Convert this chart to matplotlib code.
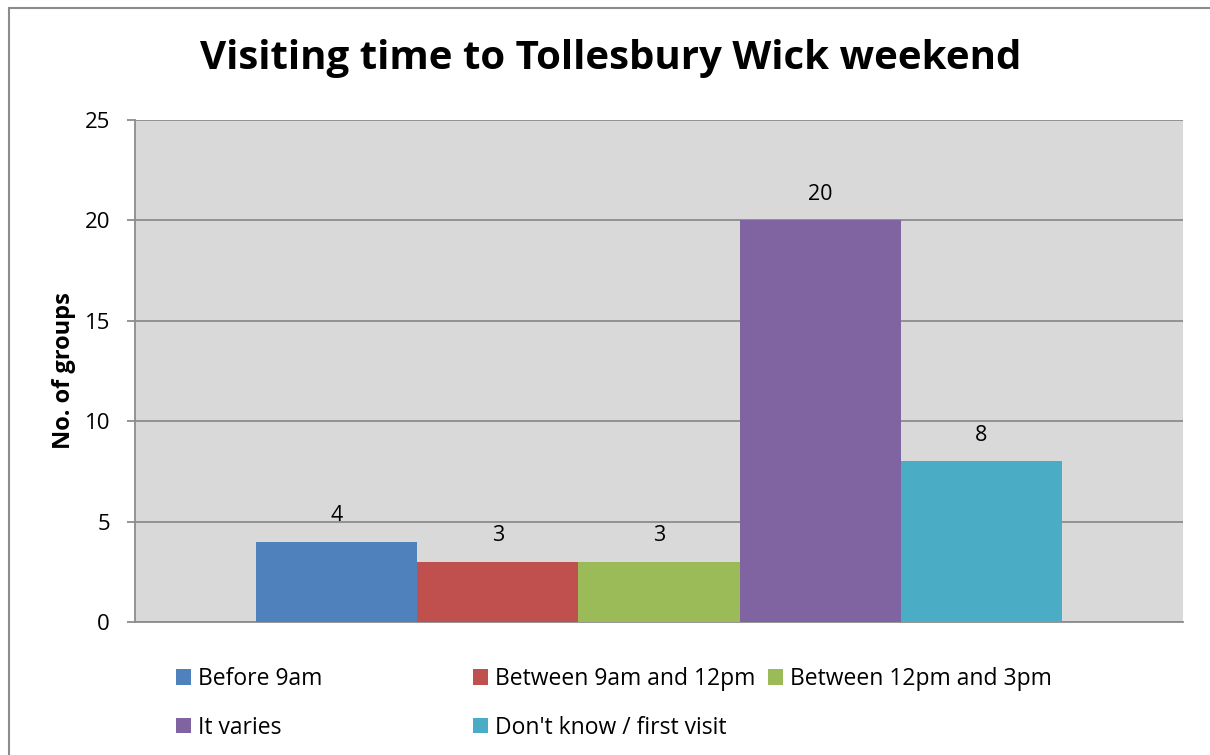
import matplotlib.pyplot as plt
from matplotlib.patches import Rectangle

# data
series = ['Before 9am', 'Between 9am and 12pm', 'Between 12pm and 3pm',
          'It varies', "Don't know / first visit"]
counts = [4, 3, 3, 20, 8]
colors = ['#4f81bd', '#c0504d', '#9bbb59', '#8064a2', '#4bacc6']
yticks = [0, 5, 10, 15, 20, 25]

plt.rcParams['font.family'] = ['Open Sans', 'DejaVu Sans']

W, H = 1210, 755
fig = plt.figure(figsize=(W / 100, H / 100), dpi=100)

# chart border (runs off the right and bottom edges)
fig.patches.append(Rectangle((9 / W, -0.1), 1.2, 1 - 8 / H + 0.1,
                             transform=fig.transFigure, fill=False,
                             edgecolor='#8c8c8c', linewidth=1.5))

ax = fig.add_axes([135 / W, 1 - 622 / H, (1183 - 135) / W, (622 - 120) / H])
ax.set_facecolor('#d9d9d9')

bw = 0.1538
bars = []
for i, (lab, v, c) in enumerate(zip(series, counts, colors)):
    x = 0.5 + (i - 2) * bw
    b = ax.bar(x, v, width=bw, color=c, label=lab, zorder=3)
    ax.bar_label(b, padding=11, fontsize=15.5, color='black')
    bars.append(b)

ax.set_xlim(0, 1)
ax.set_ylim(0, 25)
ax.set_yticks(yticks)
ax.set_xticks([])
ax.yaxis.grid(True, color='#8c8c8c', linewidth=1.3, zorder=0)
ax.set_axisbelow(True)
for s in ['top', 'right']:
    ax.spines[s].set_visible(False)
for s in ['left', 'bottom']:
    ax.spines[s].set_color('#8c8c8c')
    ax.spines[s].set_linewidth(1.3)
ax.tick_params(axis='y', length=6, width=1.3, color='#8c8c8c', pad=12,
               labelsize=16)
ax.set_ylabel('No. of groups', fontsize=17, fontweight='bold', labelpad=6)

fig.text(611 / W, 1 - 59 / H, 'Visiting time to Tollesbury Wick weekend',
         ha='center', va='center', fontsize=29, fontweight='bold')

# legend in three columns
cols = [([0, 3], 176), ([1, 4], 473), ([2], 768)]
for idx, x0 in cols:
    leg = fig.legend([bars[i] for i in idx], [series[i] for i in idx],
                     loc='upper left', bbox_to_anchor=(x0 / W, 1 - 667 / H),
                     frameon=False, fontsize=16.5, handlelength=0.66,
                     handleheight=0.66, handletextpad=0.3, labelspacing=1.08,
                     borderaxespad=0, borderpad=0)

fig.savefig('out.png', dpi=100)
